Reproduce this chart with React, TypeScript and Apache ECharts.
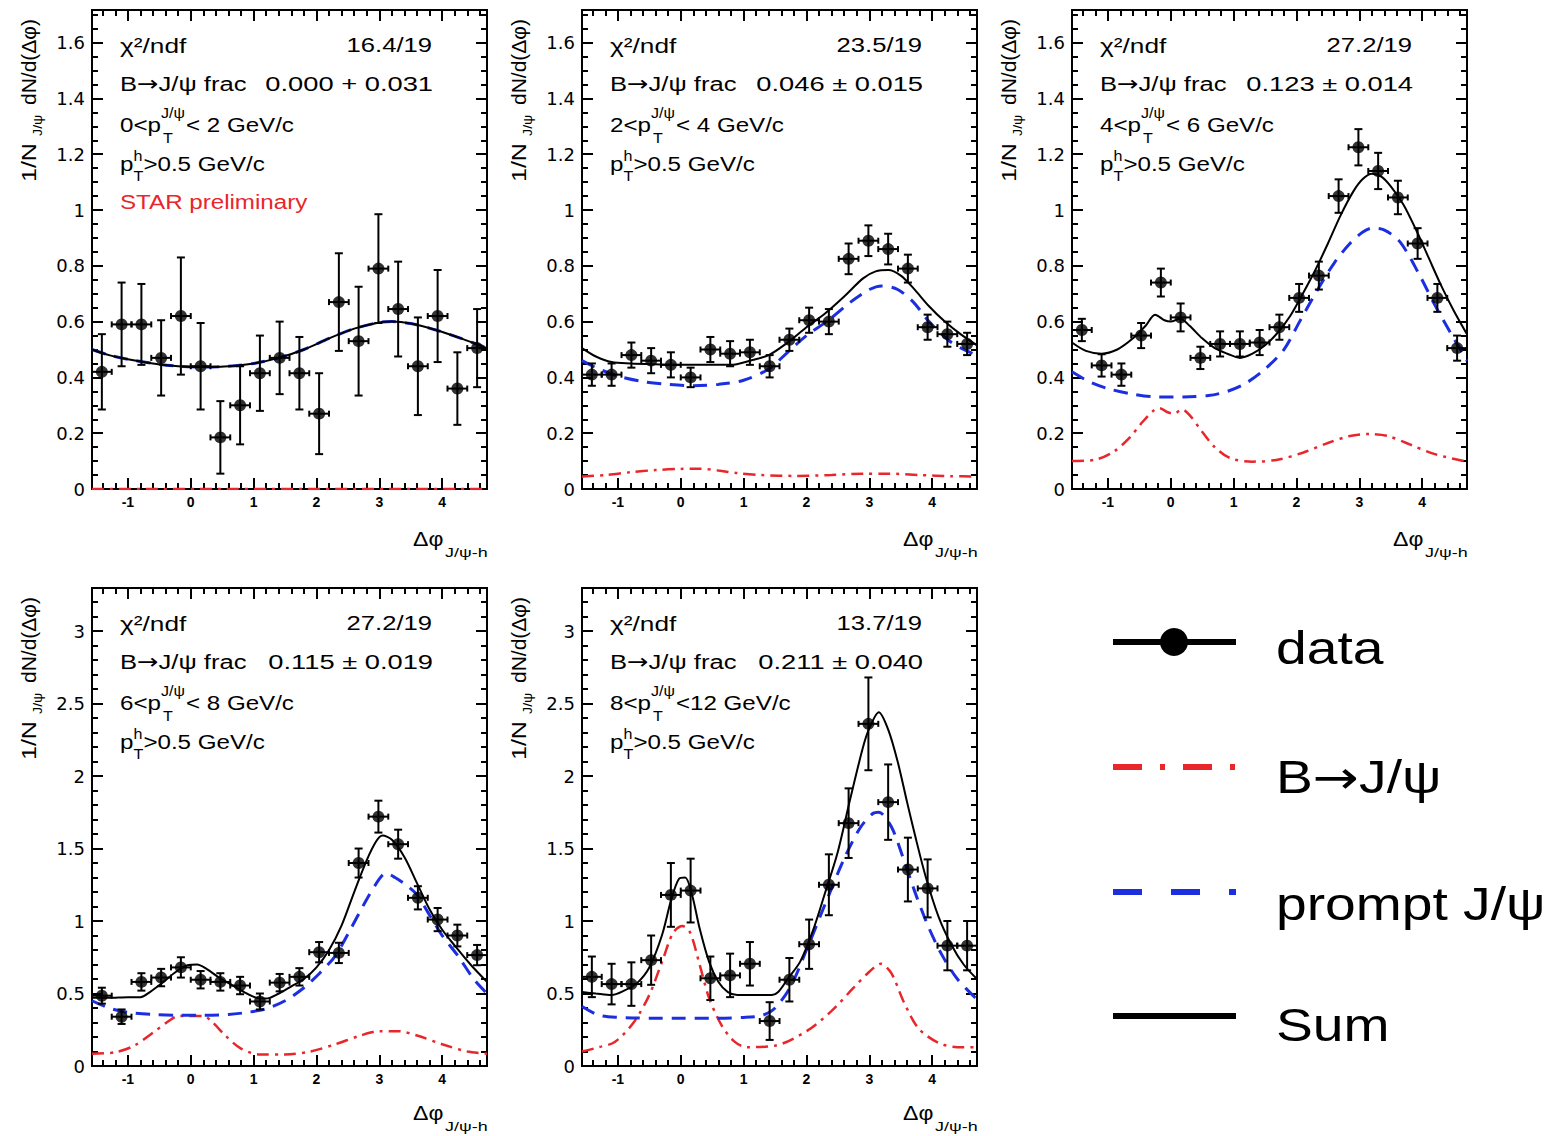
import React, { useEffect, useRef } from "react";
import * as echarts from "echarts";

// ---- axis ranges and tick labels ----
const PHI_MIN = -Math.PI / 2;
const PHI_MAX = (3 * Math.PI) / 2;
const Y_MAX_LOW = 1.717;
const Y_MAX_HIGH = 3.297;
const ticksX = [-1, 0, 1, 2, 3, 4];
const ticksYLow = [0, 0.2, 0.4, 0.6, 0.8, 1, 1.2, 1.4, 1.6];
const ticksYHigh = [0, 0.5, 1, 1.5, 2, 2.5, 3];

// ---- Δφ bins ----
const binCenters = [-1.414, -1.1, -0.785, -0.471, -0.157, 0.157, 0.471, 0.785, 1.1, 1.414, 1.728, 2.042, 2.356, 2.67, 2.985, 3.299, 3.613, 3.927, 4.241, 4.555];
const binHalfWidth = 0.157;

// ---- panel annotations ----
const chi2Ndf = ["16.4/19", "23.5/19", "27.2/19", "27.2/19", "13.7/19"];
const bFrac = ["0.000 + 0.031", "0.046 ± 0.015", "0.123 ± 0.014", "0.115 ± 0.019", "0.211 ± 0.040"];
const ptLow = ["0", "2", "4", "6", "8"];
const ptTail = ["< 2 GeV/c", "< 4 GeV/c", "< 6 GeV/c", "< 8 GeV/c", "<12 GeV/c"];

// ---- data points (value, stat. error) ----
const data1 = [0.42, 0.59, 0.59, 0.47, 0.62, 0.44, 0.185, 0.3, 0.415, 0.47, 0.415, 0.27, 0.67, 0.53, 0.79, 0.645, 0.44, 0.62, 0.36, 0.505];
const err1 = [0.135, 0.15, 0.145, 0.135, 0.21, 0.155, 0.13, 0.14, 0.135, 0.13, 0.13, 0.145, 0.175, 0.195, 0.195, 0.17, 0.175, 0.165, 0.13, 0.14];
const data2 = [0.41, 0.41, 0.48, 0.46, 0.445, 0.4, 0.5, 0.485, 0.49, 0.44, 0.535, 0.605, 0.6, 0.825, 0.89, 0.86, 0.79, 0.58, 0.555, 0.52];
const err2 = [0.04, 0.04, 0.045, 0.045, 0.045, 0.035, 0.045, 0.045, 0.045, 0.04, 0.04, 0.045, 0.045, 0.055, 0.055, 0.055, 0.05, 0.045, 0.045, 0.04];
const data3 = [0.57, 0.443, 0.41, 0.55, 0.74, 0.615, 0.47, 0.52, 0.52, 0.525, 0.58, 0.685, 0.765, 1.05, 1.225, 1.14, 1.045, 0.88, 0.685, 0.505];
const err3 = [0.04, 0.04, 0.04, 0.045, 0.05, 0.05, 0.04, 0.045, 0.045, 0.045, 0.045, 0.05, 0.05, 0.06, 0.065, 0.065, 0.06, 0.055, 0.05, 0.045];
const data4 = [0.485, 0.34, 0.58, 0.61, 0.68, 0.595, 0.58, 0.555, 0.445, 0.575, 0.615, 0.785, 0.78, 1.4, 1.72, 1.53, 1.16, 1.01, 0.9, 0.765];
const err4 = [0.055, 0.05, 0.06, 0.06, 0.07, 0.06, 0.06, 0.06, 0.055, 0.06, 0.06, 0.07, 0.07, 0.1, 0.11, 0.1, 0.08, 0.08, 0.075, 0.07];
const data5 = [0.615, 0.565, 0.565, 0.73, 1.18, 1.21, 0.605, 0.625, 0.705, 0.31, 0.595, 0.84, 1.25, 1.675, 2.36, 1.82, 1.355, 1.225, 0.83, 0.83];
const err5 = [0.14, 0.14, 0.15, 0.17, 0.22, 0.22, 0.15, 0.15, 0.15, 0.13, 0.15, 0.17, 0.21, 0.24, 0.32, 0.26, 0.22, 0.2, 0.17, 0.17];

// ---- fit components: [Δφ, value] ----
type Pt = [number, number];
const bjpsi1: Pt[] = [[-1.571, 0], [4.712, 0]];
const prompt1: Pt[] = [[-1.571, 0.5], [-1.3, 0.48], [-1.0, 0.465], [-0.6, 0.45], [-0.2, 0.44], [0.2, 0.437], [0.6, 0.44], [1.0, 0.45], [1.4, 0.47], [1.8, 0.5], [2.2, 0.54], [2.6, 0.575], [3.0, 0.597], [3.2, 0.6], [3.5, 0.593], [3.9, 0.57], [4.3, 0.54], [4.712, 0.505]];
const sum1: Pt[] = [[-1.571, 0.5], [-1.3, 0.48], [-1.0, 0.465], [-0.6, 0.45], [-0.2, 0.44], [0.2, 0.437], [0.6, 0.44], [1.0, 0.45], [1.4, 0.47], [1.8, 0.5], [2.2, 0.54], [2.6, 0.575], [3.0, 0.597], [3.2, 0.6], [3.5, 0.593], [3.9, 0.57], [4.3, 0.54], [4.712, 0.505]];

const bjpsi2: Pt[] = [[-1.571, 0.045], [-1.2, 0.05], [-0.8, 0.06], [-0.4, 0.068], [0, 0.072], [0.3, 0.073], [0.6, 0.066], [0.9, 0.057], [1.3, 0.05], [1.8, 0.047], [2.4, 0.05], [2.9, 0.055], [3.3, 0.055], [3.8, 0.05], [4.3, 0.046], [4.712, 0.045]];
const prompt2: Pt[] = [[-1.571, 0.46], [-1.3, 0.43], [-1.0, 0.405], [-0.6, 0.385], [-0.2, 0.375], [0.2, 0.37], [0.6, 0.375], [1.0, 0.39], [1.4, 0.43], [1.7, 0.49], [2.0, 0.55], [2.35, 0.605], [2.7, 0.67], [3.0, 0.715], [3.2, 0.728], [3.45, 0.715], [3.7, 0.67], [3.95, 0.6], [4.25, 0.535], [4.5, 0.5], [4.712, 0.48]];
const sum2: Pt[] = [[-1.571, 0.505], [-1.35, 0.475], [-1.1, 0.455], [-0.8, 0.45], [-0.4, 0.447], [0, 0.445], [0.4, 0.445], [0.8, 0.445], [1.1, 0.46], [1.4, 0.48], [1.7, 0.525], [2.0, 0.58], [2.3, 0.63], [2.6, 0.69], [2.9, 0.755], [3.1, 0.78], [3.3, 0.785], [3.5, 0.765], [3.7, 0.72], [3.95, 0.655], [4.2, 0.6], [4.45, 0.555], [4.712, 0.515]];

const bjpsi3: Pt[] = [[-1.571, 0.1], [-1.2, 0.105], [-0.9, 0.135], [-0.65, 0.185], [-0.45, 0.24], [-0.28, 0.28], [-0.18, 0.29], [-0.05, 0.275], [0.05, 0.27], [0.18, 0.285], [0.3, 0.265], [0.5, 0.205], [0.7, 0.15], [0.95, 0.11], [1.3, 0.098], [1.7, 0.105], [2.1, 0.13], [2.5, 0.165], [2.85, 0.19], [3.15, 0.197], [3.45, 0.19], [3.8, 0.16], [4.2, 0.125], [4.712, 0.098]];
const prompt3: Pt[] = [[-1.571, 0.42], [-1.3, 0.385], [-1.0, 0.36], [-0.6, 0.34], [-0.2, 0.33], [0.2, 0.33], [0.6, 0.335], [0.9, 0.35], [1.2, 0.38], [1.5, 0.43], [1.8, 0.5], [2.05, 0.6], [2.35, 0.72], [2.6, 0.81], [2.85, 0.88], [3.05, 0.92], [3.2, 0.935], [3.4, 0.928], [3.65, 0.885], [3.95, 0.77], [4.2, 0.66], [4.45, 0.56], [4.712, 0.46]];
const sum3: Pt[] = [[-1.571, 0.525], [-1.35, 0.495], [-1.1, 0.485], [-0.85, 0.5], [-0.6, 0.54], [-0.4, 0.585], [-0.25, 0.625], [-0.1, 0.605], [0.0, 0.6], [0.15, 0.61], [0.3, 0.585], [0.5, 0.54], [0.7, 0.505], [0.9, 0.485], [1.1, 0.47], [1.3, 0.485], [1.5, 0.515], [1.7, 0.56], [1.9, 0.62], [2.1, 0.7], [2.3, 0.785], [2.5, 0.88], [2.7, 0.98], [2.9, 1.065], [3.05, 1.11], [3.2, 1.13], [3.35, 1.12], [3.5, 1.085], [3.7, 1.02], [3.9, 0.93], [4.1, 0.83], [4.3, 0.73], [4.5, 0.64], [4.712, 0.555]];

const bjpsi4: Pt[] = [[-1.571, 0.085], [-1.2, 0.095], [-0.9, 0.14], [-0.6, 0.23], [-0.35, 0.31], [-0.2, 0.345], [0.2, 0.345], [0.35, 0.3], [0.55, 0.21], [0.8, 0.12], [1.1, 0.08], [1.5, 0.08], [1.9, 0.1], [2.3, 0.15], [2.7, 0.21], [3.0, 0.24], [3.3, 0.24], [3.6, 0.21], [4.0, 0.15], [4.4, 0.1], [4.712, 0.085]];
const prompt4: Pt[] = [[-1.571, 0.45], [-1.3, 0.4], [-1.0, 0.37], [-0.6, 0.355], [-0.2, 0.35], [0.2, 0.35], [0.6, 0.355], [0.9, 0.37], [1.2, 0.395], [1.5, 0.45], [1.8, 0.54], [2.05, 0.64], [2.3, 0.76], [2.55, 0.95], [2.8, 1.15], [3.0, 1.29], [3.1, 1.33], [3.25, 1.3], [3.45, 1.24], [3.6, 1.18], [3.8, 1.04], [4.0, 0.9], [4.25, 0.76], [4.5, 0.6], [4.712, 0.5]];
const sum4: Pt[] = [[-1.571, 0.47], [-1.3, 0.47], [-1.0, 0.475], [-0.8, 0.475], [-0.65, 0.51], [-0.45, 0.575], [-0.25, 0.645], [-0.05, 0.695], [0.1, 0.7], [0.25, 0.67], [0.45, 0.61], [0.65, 0.56], [0.85, 0.51], [1.05, 0.47], [1.2, 0.465], [1.4, 0.5], [1.6, 0.55], [1.8, 0.6], [2.0, 0.68], [2.2, 0.8], [2.4, 0.97], [2.6, 1.2], [2.8, 1.42], [2.95, 1.55], [3.05, 1.59], [3.2, 1.56], [3.4, 1.44], [3.6, 1.26], [3.8, 1.08], [4.0, 0.94], [4.2, 0.83], [4.45, 0.7], [4.712, 0.58]];

const bjpsi5: Pt[] = [[-1.571, 0.1], [-1.3, 0.13], [-1.05, 0.165], [-0.75, 0.3], [-0.5, 0.49], [-0.28, 0.74], [-0.12, 0.92], [0.03, 0.965], [0.15, 0.92], [0.3, 0.7], [0.45, 0.47], [0.65, 0.28], [0.85, 0.17], [1.05, 0.13], [1.5, 0.14], [2.0, 0.24], [2.4, 0.38], [2.75, 0.54], [3.0, 0.65], [3.18, 0.705], [3.35, 0.64], [3.55, 0.44], [3.78, 0.26], [4.1, 0.16], [4.4, 0.13], [4.712, 0.13]];
const prompt5: Pt[] = [[-1.571, 0.41], [-1.3, 0.35], [-1.0, 0.335], [-0.5, 0.33], [0, 0.33], [0.5, 0.33], [1.0, 0.335], [1.3, 0.35], [1.5, 0.4], [1.75, 0.55], [2.0, 0.8], [2.3, 1.12], [2.6, 1.43], [2.85, 1.64], [3.05, 1.74], [3.15, 1.75], [3.35, 1.65], [3.55, 1.42], [3.75, 1.17], [3.95, 0.95], [4.15, 0.77], [4.4, 0.6], [4.712, 0.46]];
const sum5: Pt[] = [[-1.571, 0.51], [-1.35, 0.5], [-1.1, 0.49], [-0.9, 0.52], [-0.7, 0.57], [-0.5, 0.68], [-0.3, 0.9], [-0.15, 1.15], [-0.03, 1.29], [0.07, 1.3], [0.18, 1.18], [0.3, 0.95], [0.45, 0.72], [0.6, 0.58], [0.75, 0.51], [0.9, 0.49], [1.2, 0.49], [1.45, 0.49], [1.55, 0.51], [1.7, 0.6], [1.9, 0.72], [2.1, 0.93], [2.3, 1.2], [2.5, 1.48], [2.7, 1.85], [2.9, 2.2], [3.0, 2.33], [3.15, 2.44], [3.3, 2.32], [3.45, 2.1], [3.6, 1.82], [3.75, 1.55], [3.9, 1.3], [4.1, 1.03], [4.3, 0.84], [4.5, 0.7], [4.712, 0.6]];

const panelData = [data1, data2, data3, data4, data5];
const panelErr = [err1, err2, err3, err4, err5];
const panelB = [bjpsi1, bjpsi2, bjpsi3, bjpsi4, bjpsi5];
const panelPrompt = [prompt1, prompt2, prompt3, prompt4, prompt5];
const panelSum = [sum1, sum2, sum3, sum4, sum5];

// ---- layout ----
const panels = [
  { left: 92, top: 10, width: 395, height: 479, yMax: Y_MAX_LOW, yTicks: ticksYLow, yMinorStep: 0.05, yMinorPer: 4, titleGap: 50 },
  { left: 582, top: 10, width: 395, height: 479, yMax: Y_MAX_LOW, yTicks: ticksYLow, yMinorStep: 0.05, yMinorPer: 4, titleGap: 50 },
  { left: 1072, top: 10, width: 395, height: 479, yMax: Y_MAX_LOW, yTicks: ticksYLow, yMinorStep: 0.05, yMinorPer: 4, titleGap: 50 },
  { left: 92, top: 588, width: 395, height: 478, yMax: Y_MAX_HIGH, yTicks: ticksYHigh, yMinorStep: 0.1, yMinorPer: 5, titleGap: 47 },
  { left: 582, top: 588, width: 395, height: 478, yMax: Y_MAX_HIGH, yTicks: ticksYHigh, yMinorStep: 0.1, yMinorPer: 5, titleGap: 47 },
];

const FONT = "'Liberation Sans', Arial, Helvetica, sans-serif";
const ARROW_FONT = "'DejaVu Sans', sans-serif";
const TICK_FONT = "'DejaVu Sans', 'Liberation Sans', sans-serif";
const RED = "#e8262b";
const BLUE = "#1b2fe0";
const SX = 1.15;

let measureCtx: CanvasRenderingContext2D | null = null;
function textWidth(text: string, size: number, family: string = FONT): number {
  if (!measureCtx) measureCtx = document.createElement("canvas").getContext("2d");
  if (!measureCtx) return text.length * size * 0.55;
  measureCtx.font = `${size}px ${family}`;
  return measureCtx.measureText(text).width;
}

function minorTicks(step: number, per: number, maxVal: number, minVal: number): number[] {
  const out: number[] = [];
  const kMin = Math.ceil(minVal / step - 1e-9);
  const kMax = Math.floor(maxVal / step + 1e-9);
  for (let k = kMin; k <= kMax; k++) {
    if (k % per === 0) continue;
    out.push(Number((k * step).toFixed(3)));
  }
  return out;
}

function txt(x: number, y: number, text: string, size: number, extra: any = {}, scaleX = SX) {
  return {
    type: "text",
    x,
    y,
    scaleX,
    silent: true,
    style: { text, fontSize: size, fontFamily: FONT, fill: "#000", align: "left", verticalAlign: "middle", ...extra },
  };
}

// "B→J/ψ" with a wider arrow glyph
function bToJpsi(x: number, y: number, size: number, scaleX: number, tail: string) {
  const wB = textWidth("B", size) * scaleX;
  const wA = textWidth("→", size, ARROW_FONT) * scaleX;
  return [
    txt(x, y, "B", size, {}, scaleX),
    txt(x + wB, y, "→", size, { fontFamily: ARROW_FONT }, scaleX),
    txt(x + wB + wA, y, tail, size, {}, scaleX),
  ];
}

function buildOption() {
  const xAxis: any[] = [];
  const yAxis: any[] = [];
  const grid: any[] = [];
  const series: any[] = [];
  const graphic: any[] = [];
  const minorX = minorTicks(0.2, 5, PHI_MAX, PHI_MIN);

  panels.forEach((p, i) => {
    grid.push({ left: p.left, top: p.top, width: p.width, height: p.height, show: true, borderColor: "#000", borderWidth: 2, backgroundColor: "transparent" });
    const minorY = minorTicks(p.yMinorStep, p.yMinorPer, p.yMax, 0);
    const tickStyle = { color: "#000", width: 2 };
    const noLine = { show: false, onZero: false };
    const xBase = { gridIndex: i, type: "value", min: PHI_MIN, max: PHI_MAX, axisLine: noLine, splitLine: { show: false } };
    const yBase = { gridIndex: i, type: "value", min: 0, max: p.yMax, axisLine: noLine, splitLine: { show: false } };
    xAxis.push({
      ...xBase, position: "bottom",
      axisTick: { show: true, inside: true, length: 11, customValues: ticksX, lineStyle: tickStyle },
      axisLabel: { show: true, customValues: ticksX, margin: 6, fontSize: 14, fontWeight: "bold", fontFamily: FONT, color: "#000" },
    });
    xAxis.push({ ...xBase, position: "bottom", axisTick: { show: true, inside: true, length: 6, customValues: minorX, lineStyle: tickStyle }, axisLabel: { show: false } });
    xAxis.push({ ...xBase, position: "top", axisTick: { show: true, inside: true, length: 11, customValues: ticksX, lineStyle: tickStyle }, axisLabel: { show: false } });
    xAxis.push({ ...xBase, position: "top", axisTick: { show: true, inside: true, length: 6, customValues: minorX, lineStyle: tickStyle }, axisLabel: { show: false } });
    yAxis.push({
      ...yBase, position: "left",
      axisTick: { show: true, inside: true, length: 11, customValues: p.yTicks, lineStyle: tickStyle },
      axisLabel: { show: true, customValues: p.yTicks, margin: 7, fontSize: 18, fontFamily: TICK_FONT, color: "#000" },
    });
    yAxis.push({ ...yBase, position: "left", axisTick: { show: true, inside: true, length: 6, customValues: minorY, lineStyle: tickStyle }, axisLabel: { show: false } });
    yAxis.push({ ...yBase, position: "right", axisTick: { show: true, inside: true, length: 11, customValues: p.yTicks, lineStyle: tickStyle }, axisLabel: { show: false } });
    yAxis.push({ ...yBase, position: "right", axisTick: { show: true, inside: true, length: 6, customValues: minorY, lineStyle: tickStyle }, axisLabel: { show: false } });

    const ax = { xAxisIndex: 4 * i, yAxisIndex: 4 * i };
    series.push({ ...ax, type: "line", name: "B→J/ψ", data: panelB[i], showSymbol: false, smooth: 0.3, silent: true, z: 2, lineStyle: { color: RED, width: 2.5, type: [12, 6, 3, 6] } });
    series.push({ ...ax, type: "line", name: "prompt J/ψ", data: panelPrompt[i], showSymbol: false, smooth: 0.3, silent: true, z: 3, lineStyle: { color: BLUE, width: 3, type: [14, 9] } });
    series.push({ ...ax, type: "line", name: "Sum", data: panelSum[i], showSymbol: false, smooth: 0.3, silent: true, z: 4, lineStyle: { color: "#000", width: 2 } });
    series.push({
      ...ax,
      type: "custom",
      name: "data errors",
      silent: true,
      z: 5,
      encode: { x: 0, y: 1 },
      data: binCenters.map((x, k) => [x, panelData[i][k], panelErr[i][k], binHalfWidth]),
      renderItem: (_params: any, api: any) => {
        const x = api.value(0);
        const y = api.value(1);
        const ey = api.value(2);
        const ex = api.value(3);
        const c = api.coord([x, y]);
        const top = api.coord([x, y + ey]);
        const bot = api.coord([x, y - ey]);
        const l = api.coord([x - ex, y]);
        const r = api.coord([x + ex, y]);
        const style = { stroke: "#000", lineWidth: 2 };
        const cap = 4;
        const capV = 3;
        return {
          type: "group",
          children: [
            { type: "line", shape: { x1: c[0], y1: top[1], x2: c[0], y2: bot[1] }, style },
            { type: "line", shape: { x1: l[0], y1: c[1], x2: r[0], y2: c[1] }, style },
            { type: "line", shape: { x1: c[0] - cap, y1: top[1], x2: c[0] + cap, y2: top[1] }, style },
            { type: "line", shape: { x1: c[0] - cap, y1: bot[1], x2: c[0] + cap, y2: bot[1] }, style },
            { type: "line", shape: { x1: l[0], y1: c[1] - capV, x2: l[0], y2: c[1] + capV }, style },
            { type: "line", shape: { x1: r[0], y1: c[1] - capV, x2: r[0], y2: c[1] + capV }, style },
          ],
        };
      },
    });
    series.push({
      ...ax,
      type: "scatter",
      name: "data",
      silent: true,
      z: 6,
      symbol: "circle",
      symbolSize: 12,
      itemStyle: { color: "#000" },
      data: binCenters.map((x, k) => [x, panelData[i][k]]),
    });

    // ---- annotations inside the frame ----
    const L = p.left;
    const T = p.top;
    const x0 = L + 28;
    const SZ = 21;
    const SUB = 14;
    graphic.push(txt(x0, T + 35, "χ²/ndf", SZ, {}, 1.25));
    graphic.push(txt(L + 340, T + 35, chi2Ndf[i], SZ, { align: "right" }, 1.22));
    graphic.push(...bToJpsi(x0, T + 74, SZ, 1.22, "J/ψ frac"));
    graphic.push(txt(L + 341, T + 74, bFrac[i], SZ, { align: "right" }, 1.3));
    const head = `${ptLow[i]}<p`;
    const wHead = textWidth(head, SZ) * SX;
    const wSup = textWidth("J/ψ", SUB) * SX;
    graphic.push(txt(x0, T + 115, head, SZ));
    graphic.push(txt(x0 + wHead, T + 103, "J/ψ", SUB));
    graphic.push(txt(x0 + wHead + 2, T + 128, "T", SUB));
    graphic.push(txt(x0 + wHead + wSup + 1, T + 115, ptTail[i], SZ));
    const wp = textWidth("p", SZ) * SX;
    graphic.push(txt(x0, T + 154, "p", SZ));
    graphic.push(txt(x0 + wp, T + 146, "h", SUB));
    graphic.push(txt(x0 + wp, T + 166, "T", SUB));
    graphic.push(txt(x0 + wp + textWidth("h", SUB) * SX + 1, T + 154, ">0.5 GeV/c", SZ));
    if (i === 0) graphic.push(txt(x0, T + 192, "STAR preliminary", SZ, { fill: RED }));

    // ---- vertical axis title ----
    graphic.push({
      type: "group",
      x: L - 63,
      y: T + 172,
      rotation: Math.PI / 2,
      silent: true,
      children: [
        txt(0, 0, "1/N", 20, {}, 1.25),
        txt(46, 9, "J/ψ", 13, {}, 1.1),
        txt(77, 0, "dN/d(Δφ)", 20, {}, 1.05),
      ],
    });

    // ---- horizontal axis title ----
    const yb = T + p.height + p.titleGap;
    graphic.push(txt(L + 321, yb, "Δφ", 21, {}, 1.1));
    graphic.push(txt(L + 353, yb + 13, "J/ψ-h", 13, {}, 1.38));
  });

  // ---- legend ----
  const lx1 = 1113;
  const lx2 = 1236;
  const lw = 6;
  graphic.push({ type: "line", shape: { x1: lx1, y1: 642, x2: lx2, y2: 642 }, style: { stroke: "#000", lineWidth: lw }, silent: true });
  graphic.push({ type: "circle", shape: { cx: 1174, cy: 642, r: 14 }, style: { fill: "#000" }, silent: true });
  graphic.push({ type: "line", shape: { x1: lx1, y1: 767, x2: lx2, y2: 767 }, style: { stroke: RED, lineWidth: lw, lineDash: [29, 18, 5, 18] }, silent: true });
  graphic.push({ type: "line", shape: { x1: lx1, y1: 892, x2: lx2, y2: 892 }, style: { stroke: BLUE, lineWidth: lw, lineDash: [29, 29] }, silent: true });
  graphic.push({ type: "line", shape: { x1: lx1, y1: 1016, x2: lx2, y2: 1016 }, style: { stroke: "#000", lineWidth: lw }, silent: true });
  graphic.push(txt(1276, 648, "data", 46, {}, 1.2));
  graphic.push(...bToJpsi(1276, 777, 46, 1.2, "J/ψ"));
  graphic.push(txt(1276, 904, "prompt J/ψ", 46, {}, 1.2));
  graphic.push(txt(1276, 1025, "Sum", 46, {}, 1.2));

  return { animation: false, backgroundColor: "#fff", grid, xAxis, yAxis, series, graphic };
}

export default function App() {
  const ref = useRef<HTMLDivElement>(null);
  useEffect(() => {
    if (!ref.current) return;
    const chart = echarts.init(ref.current, undefined, { renderer: "svg" });
    chart.setOption(buildOption() as any);
    return () => chart.dispose();
  }, []);
  return <div ref={ref} style={{ position: "absolute", left: 0, top: 0, width: 1568, height: 1136, background: "#fff" }} />;
}
